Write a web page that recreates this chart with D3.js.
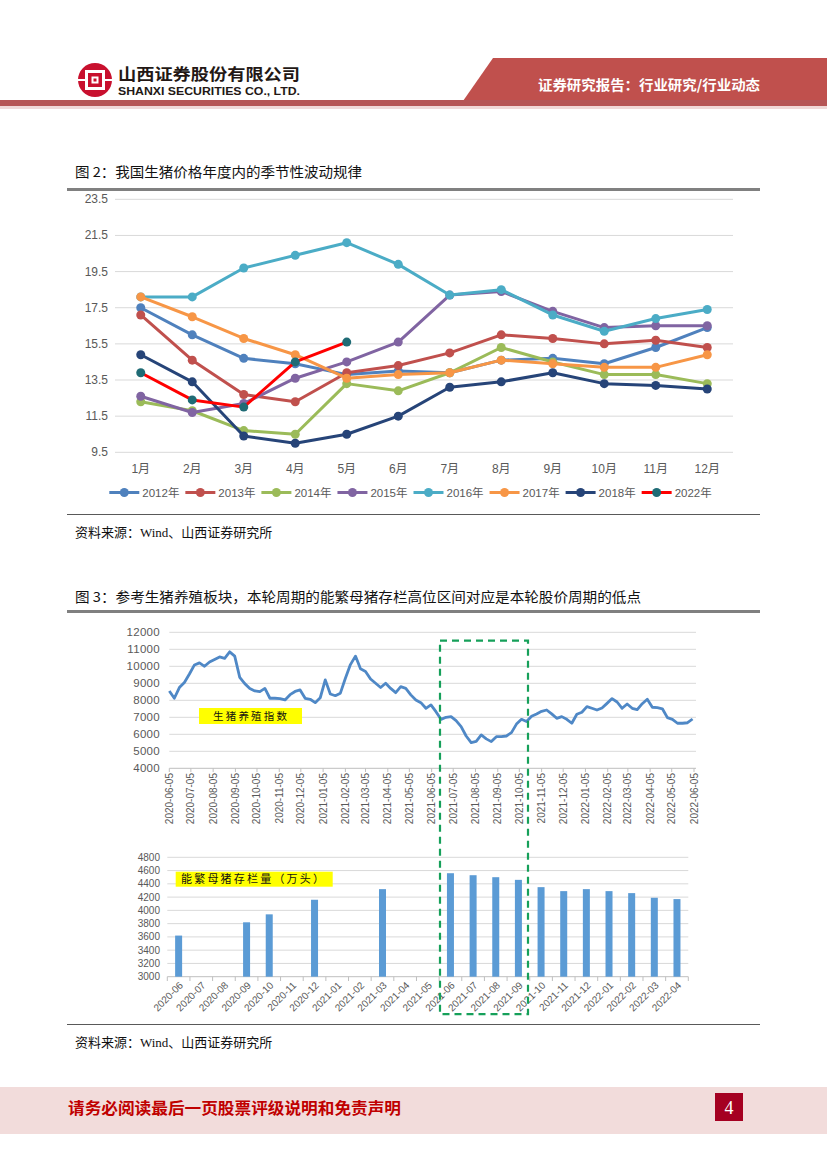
<!DOCTYPE html>
<html><head><meta charset="utf-8">
<script src="https://cdn.jsdelivr.net/npm/d3@7"></script>
<style>body{margin:0;background:#fff}svg{display:block}</style>
</head><body>
<svg id="page" width="827" height="1169"></svg>
<script>
// ---------- Chart 1 data: seasonal hog price (元/kg) ----------
const months = ["1月","2月","3月","4月","5月","6月","7月","8月","9月","10月","11月","12月"];
const yearNames = ["2012年","2013年","2014年","2015年","2016年","2017年","2018年","2022年"];
const p2012 = [17.5,16.0,14.7,14.4,13.8,14.0,13.9,14.6,14.7,14.4,15.3,16.4];
const p2013 = [17.1,14.6,12.7,12.3,13.9,14.3,15.0,16.0,15.8,15.5,15.7,15.3];
const p2014 = [12.3,11.8,10.7,10.5,13.3,12.9,13.9,15.3,14.5,13.8,13.8,13.3];
const p2015 = [12.6,11.7,12.2,13.6,14.5,15.6,18.2,18.4,17.3,16.4,16.5,16.5];
const p2016 = [18.1,18.1,19.7,20.4,21.1,19.9,18.2,18.5,17.1,16.2,16.9,17.4];
const p2017 = [18.1,17.0,15.8,14.9,13.6,13.8,13.9,14.6,14.4,14.2,14.2,14.9];
const p2018 = [14.9,13.4,10.4,10.0,10.5,11.5,13.1,13.4,13.9,13.3,13.2,13.0];
const p2022 = [13.9,12.4,12.0,14.5,15.6];
const yTicks1 = [9.5,11.5,13.5,15.5,17.5,19.5,21.5,23.5];

// ---------- Chart 3a data: 生猪养殖指数 (weekly from 2020-06-05) ----------
const indexStart = "2020-06-05";
const indexValues = [
 8550,8120,8750,9050,9550,10080,10200,10000,10250,10400,10550,10470,10850,
 10600,9350,8980,8700,8550,8510,8700,8120,8120,8100,8020,8330,8520,
 8610,8120,8060,7860,8150,9200,8370,8270,8420,9300,10100,10600,9850,
 9700,9250,9000,8750,9000,8700,8450,8800,8700,8320,8020,7860,7530,
 7730,7330,6880,7000,7040,6800,6450,5900,5510,5580,5960,5730,5570,
 5860,5860,5900,6100,6600,6880,6750,7060,7200,7350,7430,7200,6940,
 7040,6880,6650,7180,7300,7630,7530,7430,7550,7820,8100,7900,7530,
 7780,7530,7450,7800,8060,7590,7570,7500,6980,6880,6650,6650,6680,6900];
const indexTickLabels = ["2020-06-05","2020-07-05","2020-08-05","2020-09-05","2020-10-05","2020-11-05","2020-12-05",
 "2021-01-05","2021-02-05","2021-03-05","2021-04-05","2021-05-05","2021-06-05","2021-07-05","2021-08-05",
 "2021-09-05","2021-10-05","2021-11-05","2021-12-05","2022-01-05","2022-02-05","2022-03-05","2022-04-05",
 "2022-05-05","2022-06-05"];
const indexYTicks = [4000,5000,6000,7000,8000,9000,10000,11000,12000];

// ---------- Chart 3b data: 能繁母猪存栏量 (万头) ----------
const sowMonths = ["2020-06","2020-07","2020-08","2020-09","2020-10","2020-11","2020-12","2021-01","2021-02",
 "2021-03","2021-04","2021-05","2021-06","2021-07","2021-08","2021-09","2021-10","2021-11","2021-12",
 "2022-01","2022-02","2022-03","2022-04"];
const sowValues = [3620,null,null,3820,3940,null,4160,null,null,4320,null,null,
 4560,4530,4500,4460,4350,4290,4320,4290,4260,4190,4170];
const sowYTicks = [3000,3200,3400,3600,3800,4000,4200,4400,4600,4800];

// ---------- styles ----------
const lineColors = ["#4f81bd","#c0504d","#9bbb59","#8064a2","#4bacc6","#f79646","#264478","#ff0000"];
const markColors = ["#4f81bd","#c0504d","#9bbb59","#8064a2","#4bacc6","#f79646","#264478","#1f6b75"];
const CJK = "'Noto Sans CJK SC','Noto Sans',Arial,sans-serif";
const SANS = "Arial,'Liberation Sans','Noto Sans CJK SC',sans-serif";
const SERIF = "'Liberation Serif','Times New Roman','Noto Sans CJK SC',serif";

const svg = d3.select("#page");

// ---------- header ----------
const hdr = svg.append("g");
hdr.append("polygon").attr("points","493,58 827,58 827,101 463,101").attr("fill","#c0504d");
hdr.append("rect").attr("x",0).attr("y",100).attr("width",827).attr("height",6).attr("fill","#b55556");
hdr.append("rect").attr("x",0).attr("y",106).attr("width",827).attr("height",3).attr("fill","#efd9d9");
hdr.append("text").attr("x",538).attr("y",90).attr("fill","#fff").attr("font-family",CJK)
  .attr("font-weight","bold").attr("font-size",14).attr("textLength",222).attr("lengthAdjust","spacingAndGlyphs")
  .text("证券研究报告：行业研究/行业动态");
// logo
const lg = hdr.append("g").attr("transform","translate(95,80)");
lg.append("circle").attr("r",17).attr("fill","#c8102e");
lg.append("rect").attr("x",-10).attr("y",-10).attr("width",20).attr("height",20).attr("fill","#fff");
lg.append("rect").attr("x",-7).attr("y",-7).attr("width",14).attr("height",14).attr("fill","#c8102e");
lg.append("rect").attr("x",-3.5).attr("y",-3.5).attr("width",7).attr("height",7).attr("fill","#fff");
lg.append("rect").attr("x",-1.5).attr("y",-1.5).attr("width",3).attr("height",3).attr("fill","#c8102e");
lg.append("rect").attr("x",-17).attr("y",-1).attr("width",7).attr("height",2).attr("fill","#fff");
lg.append("rect").attr("x",10).attr("y",-1).attr("width",7).attr("height",2).attr("fill","#fff");
hdr.append("text").attr("x",118).attr("y",80).attr("fill","#231815").attr("font-family",CJK)
  .attr("font-weight","bold").attr("font-size",16).attr("textLength",182).attr("lengthAdjust","spacingAndGlyphs")
  .text("山西证券股份有限公司");
hdr.append("text").attr("x",118).attr("y",95).attr("fill","#231815").attr("font-family",SANS)
  .attr("font-weight","bold").attr("font-size",11.5).attr("textLength",182).attr("lengthAdjust","spacingAndGlyphs")
  .text("SHANXI SECURITIES CO., LTD.");

// ---------- titles / rules / sources ----------
function heading(y, txt, len){
  svg.append("text").attr("x",75).attr("y",y).attr("font-family",CJK).attr("font-size",13.5)
   .attr("fill","#111").attr("textLength",len).attr("lengthAdjust","spacingAndGlyphs").text(txt);
}
heading(177,"图 2：我国生猪价格年度内的季节性波动规律",287);
heading(602,"图 3：参考生猪养殖板块，本轮周期的能繁母猪存栏高位区间对应是本轮股价周期的低点",566);
svg.append("rect").attr("x",67).attr("y",188).attr("width",693).attr("height",3).attr("fill","#808080");
svg.append("rect").attr("x",67).attr("y",610).attr("width",693).attr("height",3).attr("fill","#808080");
svg.append("rect").attr("x",67).attr("y",514).attr("width",693).attr("height",1).attr("fill","#595959");
svg.append("rect").attr("x",67).attr("y",1024).attr("width",693).attr("height",1).attr("fill","#595959");
function source(y){
  svg.append("text").attr("x",75).attr("y",y).attr("font-family",SERIF).attr("font-size",13)
   .attr("fill","#111").text("资料来源：Wind、山西证券研究所");
}
source(537); source(1047);

// ---------- Chart 1 ----------
const c1 = svg.append("g");
const x1 = d3.scalePoint().domain(months).range([140.75,707.25]);
const y1 = d3.scaleLinear().domain([9.5,23.5]).range([452.3,199.3]);
c1.selectAll("line.g").data(yTicks1).join("line").attr("x1",115).attr("x2",733)
  .attr("y1",d=>y1(d)).attr("y2",d=>y1(d)).attr("stroke","#d9d9d9").attr("stroke-width",1);
c1.selectAll("text.yl").data(yTicks1).join("text").attr("x",108).attr("y",d=>y1(d)+4)
  .attr("text-anchor","end").attr("font-family",SANS).attr("font-size",12).attr("fill","#595959")
  .text(d=>d3.format(".1f")(d));
c1.selectAll("text.xl").data(months).join("text").attr("x",d=>x1(d)).attr("y",473)
  .attr("text-anchor","middle").attr("font-family",SANS).attr("font-size",12).attr("fill","#595959").text(d=>d);
const allSeries = [p2012,p2013,p2014,p2015,p2016,p2017,p2018,p2022];
const line1 = d3.line().x((d,i)=>x1(months[i])).y(d=>y1(d));
allSeries.forEach((s,k)=>{
  const g = c1.append("g");
  g.append("path").attr("d",line1(s)).attr("fill","none").attr("stroke",lineColors[k])
   .attr("stroke-width",3).attr("stroke-linejoin","round");
  g.selectAll("circle").data(s).join("circle").attr("cx",(d,i)=>x1(months[i])).attr("cy",d=>y1(d))
   .attr("r",4.5).attr("fill",markColors[k]);
});
// legend
yearNames.forEach((nm,k)=>{
  const lx = 109.3 + k*76.05, ly = 492.5;
  c1.append("line").attr("x1",lx).attr("x2",lx+30).attr("y1",ly).attr("y2",ly)
    .attr("stroke",lineColors[k]).attr("stroke-width",3);
  c1.append("circle").attr("cx",lx+15).attr("cy",ly).attr("r",4.5).attr("fill",markColors[k]);
  c1.append("text").attr("x",lx+33).attr("y",ly+4).attr("font-family",SANS).attr("font-size",11.5)
    .attr("fill","#595959").text(nm);
});

// ---------- Chart 3a: index line ----------
const c2 = svg.append("g");
const parse = d3.timeParse("%Y-%m-%d");
const t0 = parse(indexStart);
const indexDates = indexValues.map((v,i)=>d3.timeDay.offset(t0,7*i));
const x2 = d3.scaleTime().domain([parse("2020-06-05"),parse("2022-06-05")]).range([169.3,694]);
const y2 = d3.scaleLinear().domain([4000,12000]).range([768.3,632.3]);
c2.selectAll("line.g").data(indexYTicks).join("line").attr("x1",169.3).attr("x2",696)
  .attr("y1",d=>y2(d)).attr("y2",d=>y2(d)).attr("stroke",d=>d===4000?"#bfbfbf":"#d9d9d9");
c2.selectAll("text.yl").data(indexYTicks).join("text").attr("x",160).attr("y",d=>y2(d)+4)
  .attr("text-anchor","end").attr("font-family",SANS).attr("font-size",11.5).attr("fill","#595959")
  .attr("letter-spacing",0.3).text(d=>d);
c2.selectAll("line.tk").data(indexTickLabels).join("line").attr("x1",d=>x2(parse(d))).attr("x2",d=>x2(parse(d)))
  .attr("y1",768.3).attr("y2",772).attr("stroke","#bfbfbf");
c2.selectAll("text.xl").data(indexTickLabels).join("text")
  .attr("transform",d=>`translate(${x2(parse(d))+3.5},773) rotate(-90)`)
  .attr("text-anchor","end").attr("font-family",SANS).attr("font-size",10).attr("fill","#595959").text(d=>d);
c2.append("path").attr("d",d3.line().x((d,i)=>x2(indexDates[i])).y(d=>y2(d))(indexValues))
  .attr("fill","none").attr("stroke","#4f88c6").attr("stroke-width",2.8).attr("stroke-linejoin","round");
c2.append("rect").attr("x",199).attr("y",708).attr("width",103).attr("height",16).attr("fill","#ffff00");
c2.append("text").attr("x",213).attr("y",720).attr("font-family",CJK).attr("font-size",10.5).attr("fill","#111")
  .attr("textLength",74).attr("lengthAdjust","spacing").text("生猪养殖指数");

// ---------- Chart 3b: sow bars ----------
const c3 = svg.append("g");
const x3 = d3.scaleBand().domain(sowMonths).range([167.3,688.3]);
const y3 = d3.scaleLinear().domain([3000,4800]).range([976.7,857.3]);
c3.selectAll("line.g").data(sowYTicks).join("line").attr("x1",167.3).attr("x2",688.3)
  .attr("y1",d=>y3(d)).attr("y2",d=>y3(d)).attr("stroke",d=>d===3000?"#bfbfbf":"#d9d9d9");
c3.selectAll("text.yl").data(sowYTicks).join("text").attr("x",160).attr("y",d=>y3(d)+3.5)
  .attr("text-anchor","end").attr("font-family",SANS).attr("font-size",10).attr("fill","#595959").text(d=>d);
c3.selectAll("line.tk").data(sowMonths.concat(["end"])).join("line")
  .attr("x1",(d,i)=>167.3+i*x3.step()).attr("x2",(d,i)=>167.3+i*x3.step())
  .attr("y1",976.7).attr("y2",981).attr("stroke","#bfbfbf");
const barData = sowMonths.map((m,i)=>({m,v:sowValues[i]})).filter(d=>d.v!==null);
c3.selectAll("rect.b").data(barData).join("rect")
  .attr("x",d=>x3(d.m)+x3.bandwidth()/2-3.5).attr("width",7)
  .attr("y",d=>y3(d.v)).attr("height",d=>976.7-y3(d.v)).attr("fill","#5b9bd5");
c3.selectAll("text.xl").data(sowMonths).join("text")
  .attr("transform",d=>`translate(${x3(d)+x3.bandwidth()/2+5},986) rotate(-45)`)
  .attr("text-anchor","end").attr("font-family",SANS).attr("font-size",10).attr("fill","#595959").text(d=>d);
c3.append("rect").attr("x",175.7).attr("y",871.7).attr("width",157).attr("height",15).attr("fill","#ffff00");
c3.append("text").attr("x",181).attr("y",883).attr("font-family",CJK).attr("font-size",11).attr("fill","#111")
  .attr("textLength",143).attr("lengthAdjust","spacing").text("能繁母猪存栏量（万头）");

// green dashed highlight box
svg.append("rect").attr("x",440).attr("y",640.7).attr("width",88).attr("height",373.5)
  .attr("fill","none").attr("stroke","#16a05a").attr("stroke-width",2.2).attr("stroke-dasharray","7,5");

// ---------- footer ----------
svg.append("rect").attr("x",0).attr("y",1087).attr("width",827).attr("height",47).attr("fill","#f2dcdb");
svg.append("text").attr("x",68).attr("y",1114).attr("font-family",CJK).attr("font-weight","bold")
  .attr("font-size",16).attr("fill","#c00000").attr("textLength",333).attr("lengthAdjust","spacingAndGlyphs")
  .text("请务必阅读最后一页股票评级说明和免责声明");
svg.append("rect").attr("x",715).attr("y",1093).attr("width",28).attr("height",28).attr("fill","#a50021");
svg.append("text").attr("x",729).attr("y",1114).attr("text-anchor","middle").attr("font-family",SERIF)
  .attr("font-size",18).attr("fill","#fff").text("4");
</script>
</body></html>
